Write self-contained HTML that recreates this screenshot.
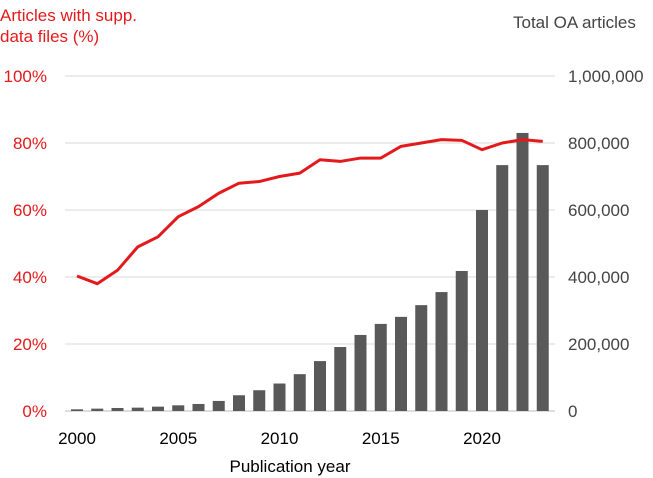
<!DOCTYPE html>
<html><head><meta charset="utf-8"><style>
body{margin:0;background:#fff;font-family:"Liberation Sans",sans-serif}
</style></head><body>
<svg id="c" width="653" height="478" style="display:block">
<text x="0" y="21" fill="#e31a1c" font-size="17">Articles with supp.</text>
<text x="0" y="42" fill="#e31a1c" font-size="17">data files (%)</text>
<text x="513" y="28" fill="#444" font-size="17">Total OA articles</text>
<text x="290" y="472" fill="#000" font-size="17" text-anchor="middle">Publication year</text>
<g id="g"></g>
</svg>
<script>
const years=[2000,2001,2002,2003,2004,2005,2006,2007,2008,2009,2010,2011,2012,2013,2014,2015,2016,2017,2018,2019,2020,2021,2022,2023];
const totals=[5000,7000,9000,10000,13000,17000,21000,30000,47000,62000,82000,110000,149000,191000,227000,260000,281000,316000,355000,418000,600000,734000,830000,734000];
const pct=[40.3,38,42,49,52,58,61,65,68,68.5,70,71,75,74.5,75.5,75.5,79,80,81,80.8,78,80,81,80.5];
const leftTicks=[0,20,40,60,80,100];
const rightTicks=[0,200000,400000,600000,800000,1000000];
const xTicks=[2000,2005,2010,2015,2020];
const NS="http://www.w3.org/2000/svg",g=document.getElementById('g');
const x=y=>77+(y-2000)*20.25;
const yL=v=>411-v/100*335;
const yR=v=>411-v/1e6*335;
function mk(t,a){const e=document.createElementNS(NS,t);for(const k in a)e.setAttribute(k,a[k]);g.appendChild(e);return e;}
leftTicks.forEach((v,i)=>{
 const l=mk('line',{x1:65,x2:555,y1:yL(v),y2:yL(v),stroke:i==0?'#bbb':'#d9d9d9','stroke-width':1});
 
 
 const t=mk('text',{x:47,y:yL(v)+6,'text-anchor':'end',fill:'#e31a1c','font-size':17});
 t.textContent=v+'%';
 
 
});
rightTicks.forEach(v=>{
 const t=mk('text',{x:568,y:yR(v)+6,fill:'#444','font-size':17});
 t.textContent=v.toLocaleString('en-US');
 
 
});
xTicks.forEach(v=>{
 const t=mk('text',{x:x(v),y:444,'text-anchor':'middle',fill:'#000','font-size':17});
 t.textContent=v;
 
 
});
years.forEach((yr,i)=>{
 const r=mk('rect',{x:x(yr)-6,y:yR(totals[i]),width:12,height:411-yR(totals[i]),fill:'#595959'});
 
 
});
const p=mk('polyline',{points:years.map((yr,i)=>x(yr)+','+yL(pct[i])).join(' '),fill:'none',stroke:'#e31a1c','stroke-width':3,'stroke-linejoin':'round'});


</script>
</body></html>
